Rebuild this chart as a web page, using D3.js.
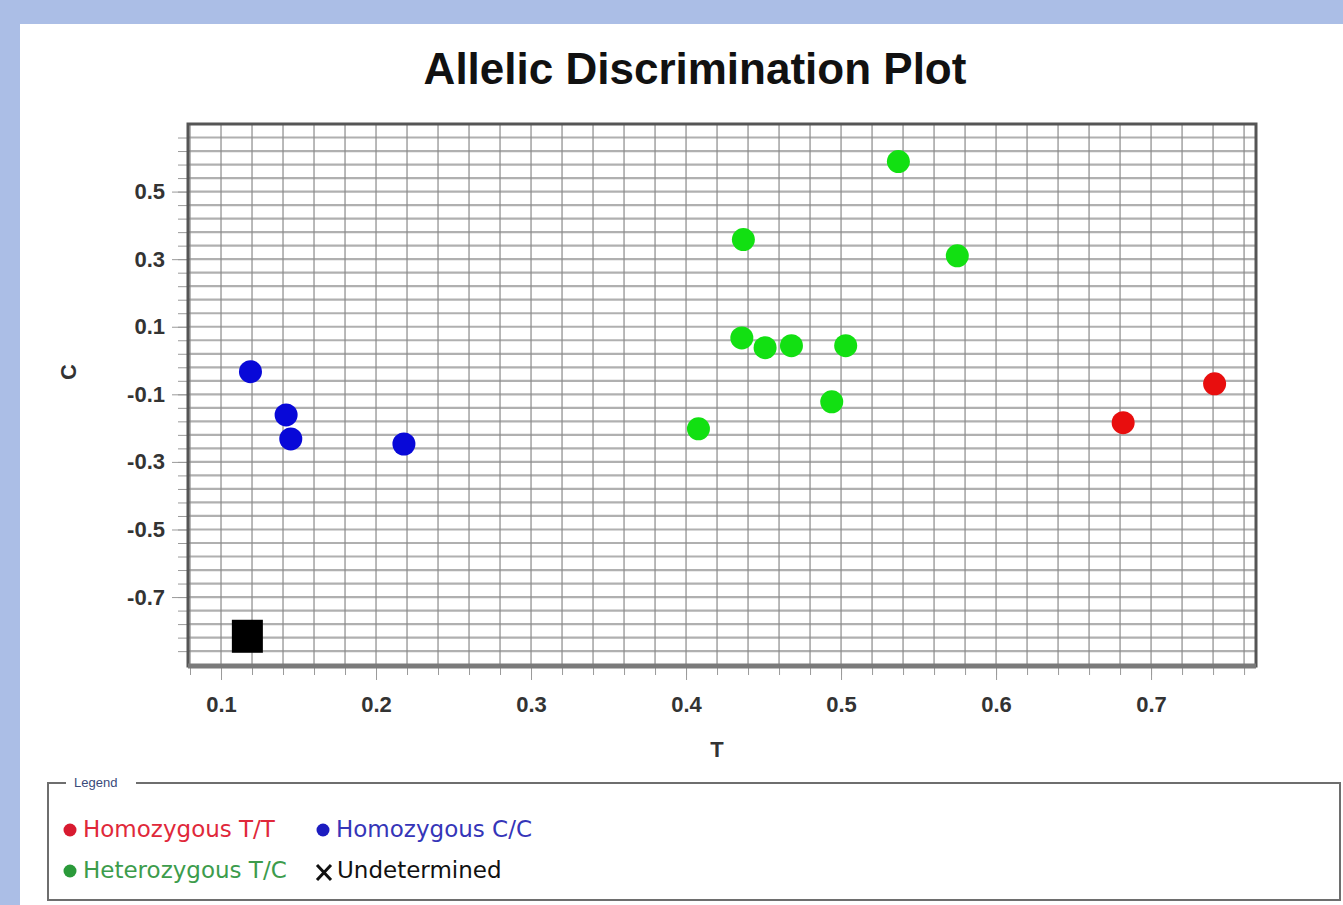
<!DOCTYPE html>
<html>
<head>
<meta charset="utf-8">
<script src="https://cdn.jsdelivr.net/npm/d3@7"></script>
<style>
    html, body { margin: 0; padding: 0; background: #abbee6; }
    svg { display: block; }
    .tick-label { font-family: 'Liberation Sans', Arial, sans-serif; font-weight: bold; fill: #333; }
    .legend-text { font-family: 'DejaVu Sans', Verdana, sans-serif; }
</style>
</head>
<body>
<div id="chart"></div>
<script>
'use strict';

// axis ticks (labelled)
let xTicks = [0.1, 0.2, 0.3, 0.4, 0.5, 0.6, 0.7];
let yTicks = [0.5, 0.3, 0.1, -0.1, -0.3, -0.5, -0.7];

// samples per genotype call, [T, C]
let homozygousTT = [[0.741, -0.069], [0.682, -0.184]];
let homozygousCC = [[0.119, -0.033], [0.142, -0.161], [0.145, -0.232], [0.218, -0.247]];
let heterozygousTC = [
    [0.537, 0.589], [0.437, 0.358], [0.575, 0.310], [0.436, 0.067],
    [0.451, 0.038], [0.468, 0.044], [0.503, 0.044], [0.494, -0.122], [0.408, -0.202]
];
let undetermined = [[0.117, -0.816]];

let legendLabels = ['Homozygous T/T', 'Homozygous C/C', 'Heterozygous T/C', 'Undetermined'];

const width = 1343;
const height = 905;
let plot = {left: 188, top: 124, right: 1256, bottom: 666};

let svg = d3.select('#chart')
    .append('svg')
    .attr('width', width)
    .attr('height', height);

// white panel over the blue frame
svg.append('rect')
    .attr('x', 20)
    .attr('y', 24)
    .attr('width', width - 20)
    .attr('height', height - 24)
    .attr('fill', '#ffffff');

let x = d3.scaleLinear()
    .domain([0.0787, 0.7677])
    .range([plot.left, plot.right]);

let y = d3.scaleLinear()
    .domain([-0.904, 0.70])
    .range([plot.bottom, plot.top]);

// minor steps: 0.02 on T, 0.04 on C
let xMinor = d3.range(4, 39).map(function(i) { return i * 0.02; });
let yMinor = d3.range(-35, 6).map(function(i) { return 0.5 + i * 0.04; })
    .filter(function(v) { return v > -0.9 && v < 0.69; });

// plain hyphen for negatives, like the original
let fmt = function(d) { return d3.format('.1f')(d).replace('\u2212', '-'); };

// grid
let grid = svg.append('g').attr('class', 'grid');

grid.selectAll('line.h')
    .data(yMinor)
    .enter()
    .append('line')
    .attr('class', 'h')
    .attr('x1', plot.left)
    .attr('x2', plot.right)
    .attr('y1', function(d) { return y(d); })
    .attr('y2', function(d) { return y(d); })
    .attr('stroke', '#b0b0b0')
    .attr('stroke-width', 2.2);

grid.selectAll('line.v')
    .data(xMinor)
    .enter()
    .append('line')
    .attr('class', 'v')
    .attr('y1', plot.top)
    .attr('y2', plot.bottom)
    .attr('x1', function(d) { return x(d); })
    .attr('x2', function(d) { return x(d); })
    .attr('stroke', '#8a8a8a')
    .attr('stroke-width', 1.2);

// axes: minor ticks and labelled ticks
let xAxisMinor = d3.axisBottom(x).tickValues(xMinor).tickSize(9).tickFormat('');
let xAxis = d3.axisBottom(x).tickValues(xTicks).tickSize(14).tickPadding(16).tickFormat(fmt);
let yAxisMinor = d3.axisLeft(y).tickValues(yMinor).tickSize(10).tickFormat('');
let yAxis = d3.axisLeft(y).tickValues(yTicks).tickSize(16).tickPadding(7).tickFormat(fmt);

function styleAxis(g) {
    g.select('.domain').remove();
    g.selectAll('.tick line').attr('stroke', '#9a9a9a');
    g.selectAll('.tick text')
        .attr('class', 'tick-label')
        .attr('font-size', 22);
}

svg.append('g')
    .attr('transform', 'translate(0,' + plot.bottom + ')')
    .call(xAxisMinor)
    .call(styleAxis);

svg.append('g')
    .attr('transform', 'translate(0,' + plot.bottom + ')')
    .call(xAxis)
    .call(styleAxis);

svg.append('g')
    .attr('transform', 'translate(' + plot.left + ',0)')
    .call(yAxisMinor)
    .call(styleAxis);

svg.append('g')
    .attr('transform', 'translate(' + plot.left + ',0)')
    .call(yAxis)
    .call(styleAxis);

// plot frame
svg.append('rect')
    .attr('x', plot.left)
    .attr('y', plot.top)
    .attr('width', plot.right - plot.left)
    .attr('height', plot.bottom - plot.top)
    .attr('fill', 'none')
    .attr('stroke', '#555555')
    .attr('stroke-width', 3);

svg.append('line')
    .attr('x1', plot.left)
    .attr('x2', plot.right)
    .attr('y1', plot.bottom)
    .attr('y2', plot.bottom)
    .attr('stroke', '#7a7a7a')
    .attr('stroke-width', 5);

// points
let points = svg.append('g').attr('class', 'points');

function drawDots(data, color) {
    points.append('g')
        .selectAll('circle')
        .data(data)
        .enter()
        .append('circle')
        .attr('cx', function(d) { return x(d[0]); })
        .attr('cy', function(d) { return y(d[1]); })
        .attr('r', 11.5)
        .attr('fill', color);
}

drawDots(heterozygousTC, '#12e012');
drawDots(homozygousCC, '#0808d8');
drawDots(homozygousTT, '#e80e0e');

points.append('g')
    .selectAll('rect')
    .data(undetermined)
    .enter()
    .append('rect')
    .attr('x', function(d) { return x(d[0]) - 15.5; })
    .attr('y', function(d) { return y(d[1]) - 16.5; })
    .attr('width', 31)
    .attr('height', 33)
    .attr('fill', '#000000');

// title and axis names
svg.append('text')
    .attr('x', 695)
    .attr('y', 84)
    .attr('text-anchor', 'middle')
    .attr('font-family', 'Liberation Sans, Arial, sans-serif')
    .attr('font-weight', 'bold')
    .attr('font-size', 44)
    .attr('fill', '#111')
    .text('Allelic Discrimination Plot');

svg.append('text')
    .attr('x', 717)
    .attr('y', 757)
    .attr('text-anchor', 'middle')
    .attr('class', 'tick-label')
    .attr('font-size', 22)
    .attr('fill', '#222')
    .text('T');

svg.append('text')
    .attr('transform', 'translate(76,372) rotate(-90)')
    .attr('text-anchor', 'middle')
    .attr('class', 'tick-label')
    .attr('font-size', 22)
    .attr('fill', '#222')
    .text('C');

// legend box
let legend = svg.append('g').attr('class', 'legend');

legend.append('path')
    .attr('d', 'M66,783 H48 V900 H1340 V783 H136')
    .attr('fill', 'none')
    .attr('stroke', '#6e6e6e')
    .attr('stroke-width', 2);

legend.append('text')
    .attr('x', 74)
    .attr('y', 787)
    .attr('font-family', 'Liberation Sans, Arial, sans-serif')
    .attr('font-size', 13)
    .attr('fill', '#3a4a7a')
    .text('Legend');

let legendItems = [
    {label: legendLabels[0], dot: '#d81a30', text: '#e0283a', px: 70, py: 829},
    {label: legendLabels[1], dot: '#1c1cc0', text: '#3535b8', px: 323, py: 829},
    {label: legendLabels[2], dot: '#2a9a3a', text: '#3c9c4c', px: 70, py: 870},
    {label: legendLabels[3], dot: null, text: '#111111', px: 324, py: 870}
];

let item = legend.selectAll('g.item')
    .data(legendItems)
    .enter()
    .append('g')
    .attr('class', 'item')
    .attr('transform', function(d) { return 'translate(' + d.px + ',' + d.py + ')'; });

item.filter(function(d) { return d.dot; })
    .append('circle')
    .attr('r', 6.5)
    .attr('cy', 1)
    .attr('fill', function(d) { return d.dot; });

item.filter(function(d) { return !d.dot; })
    .append('path')
    .attr('d', 'M-7,-5 L7,10 M7,-5 L-7,10')
    .attr('stroke', '#111')
    .attr('stroke-width', 3);

item.append('text')
    .attr('class', 'legend-text')
    .attr('x', 13)
    .attr('y', 8)
    .attr('font-size', 23)
    .attr('fill', function(d) { return d.text; })
    .text(function(d) { return d.label; });
</script>
</body>
</html>
